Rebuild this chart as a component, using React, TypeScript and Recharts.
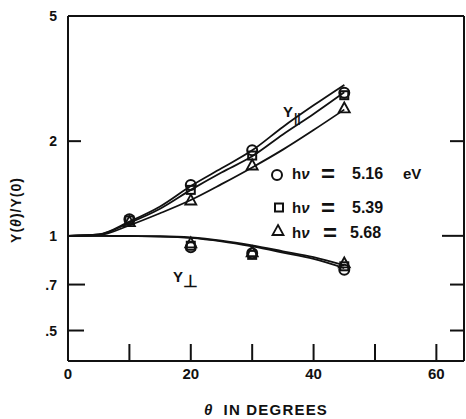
import { ComposedChart, Line, Scatter, XAxis, YAxis } from 'recharts'

const W = 466
const H = 419
const FONT = '"Liberation Sans", Arial, Helvetica, sans-serif'
const INK = '#111'

// axis ticks
const thetaTicks = [0, 10, 20, 30, 40, 50, 60]
const ratioTicks = [0.5, 0.7, 1, 2, 5]

// theory curves
const curveTheta = [0, 5, 10, 15, 20, 25, 30, 35, 40, 45]
const parTop = [1, 1.01, 1.11, 1.24, 1.44, 1.64, 1.87, 2.22, 2.6, 3.02]
const parMid = [1, 1.01, 1.1, 1.22, 1.4, 1.59, 1.79, 2.1, 2.44, 2.86]
const parLow = [1, 1.005, 1.08, 1.18, 1.3, 1.46, 1.65, 1.88, 2.17, 2.52]
const perpA = [1, 1, 0.998, 0.995, 0.985, 0.96, 0.925, 0.885, 0.845, 0.79]
const perpB = [1, 1, 0.999, 0.997, 0.988, 0.965, 0.932, 0.893, 0.855, 0.805]

// measured points, Y parallel
const parTheta = [10, 20, 30, 45]
const circlePar = [1.13, 1.45, 1.87, 2.85]
const squarePar = [1.12, 1.4, 1.8, 2.8]
const trianglePar = [1.11, 1.3, 1.68, 2.55]

// measured points, Y perpendicular
const perpTheta = [20, 30, 45]
const circlePerp = [0.92, 0.88, 0.78]
const squarePerp = [0.93, 0.87, 0.8]
const trianglePerp = [0.95, 0.89, 0.82]

const zip = (xs: number[], ys: number[]) => xs.map((x, i) => ({ x, y: ys[i] }))

const curves = [parTop, parMid, parLow, perpA, perpB].map((ys) => zip(curveTheta, ys))
const circles = [...zip(parTheta, circlePar), ...zip(perpTheta, circlePerp)]
const squares = [...zip(parTheta, squarePar), ...zip(perpTheta, squarePerp)]
const triangles = [...zip(parTheta, trianglePar), ...zip(perpTheta, trianglePerp)]

const CircleMark = ({ cx, cy }: any) => (
  <circle cx={cx} cy={cy} r={5} fill="#fff" fillOpacity={0} stroke={INK} strokeWidth={2} />
)
const SquareMark = ({ cx, cy }: any) => (
  <rect x={cx - 4} y={cy - 4} width={8} height={8} fill="none" stroke={INK} strokeWidth={2} />
)
const TriangleMark = ({ cx, cy }: any) => (
  <path d={`M${cx},${cy - 5.5}L${cx + 5.5},${cy + 4.5}L${cx - 5.5},${cy + 4.5}Z`} fill="none" stroke={INK} strokeWidth={1.8} />
)

const fmtRatio = (v: number) => (v < 1 ? String(v).replace('0.', '.') : String(v))
const leftLen: Record<string, number> = { '2': 13, '0.7': 17, '0.5': 16 }
const rightLen: Record<string, number> = { '2': 14, '1': 22, '0.7': 14, '0.5': 14 }

const tickText = { fontFamily: FONT, fontWeight: 'bold' as const, fill: INK }

const BottomTick = ({ x, y, payload }: any) => {
  const v = payload.value
  return (
    <g>
      {v > 0 && <line x1={x} x2={x} y1={y} y2={y - 17} stroke={INK} strokeWidth={2} />}
      {v % 20 === 0 && (
        <text x={x} y={y + 18} textAnchor="middle" fontSize={15} {...tickText}>
          {v}
        </text>
      )}
    </g>
  )
}

const TopTick = ({ x, y, payload }: any) =>
  payload.value > 0 ? <line x1={x} x2={x} y1={y} y2={y + 17} stroke={INK} strokeWidth={2} /> : <g />

const LeftTick = ({ x, y, payload }: any) => {
  const len = leftLen[String(payload.value)] ?? 0
  return (
    <g>
      {len > 0 && <line x1={x} x2={x + len} y1={y} y2={y} stroke={INK} strokeWidth={2} />}
      <text x={x - 11} y={y} dy="0.36em" textAnchor="end" fontSize={14} {...tickText}>
        {fmtRatio(payload.value)}
      </text>
    </g>
  )
}

const RightTick = ({ x, y, payload }: any) => {
  const len = rightLen[String(payload.value)] ?? 0
  return len > 0 ? <line x1={x} x2={x - len} y1={y} y2={y} stroke={INK} strokeWidth={2} /> : <g />
}

const frame = { stroke: INK, strokeWidth: 2 }

const legendRows = [
  { mark: 'circle', cy: 175, base: 178.5, eq: 321, val: 352, value: '5.16', unit: 'eV' },
  { mark: 'square', cy: 207.5, base: 212.5, eq: 321, val: 352, value: '5.39', unit: '' },
  { mark: 'triangle', cy: 230.5, base: 237.5, eq: 323, val: 350, value: '5.68', unit: '' },
]

export default function App() {
  return (
    <div style={{ position: 'absolute', left: 0, top: 0, width: W, height: H, background: '#fff' }}>
      <ComposedChart width={W} height={H} margin={{ top: 0, right: 0, bottom: 0, left: 0 }}>
        <XAxis
          xAxisId="b"
          dataKey="x"
          type="number"
          domain={[0, 64.5]}
          ticks={thetaTicks}
          interval={0}
          height={58}
          tickSize={0}
          tickMargin={0}
          tickLine={false}
          axisLine={frame}
          tick={<BottomTick />}
          allowDataOverflow
          label={{
            content: ({ viewBox }: any) => (
              <text
                x={viewBox.x + viewBox.width / 2}
                y={viewBox.y + 54}
                textAnchor="middle"
                fontSize={15}
                letterSpacing={1.2}
                {...tickText}
              >
                <tspan fontStyle="italic">θ</tspan>
                <tspan dx={10}>IN DEGREES</tspan>
              </text>
            ),
          }}
        />
        <XAxis
          xAxisId="t"
          orientation="top"
          type="number"
          domain={[0, 64.5]}
          ticks={thetaTicks}
          interval={0}
          height={16}
          tickSize={0}
          tickMargin={0}
          tickLine={false}
          axisLine={frame}
          tick={<TopTick />}
          allowDataOverflow
        />
        <YAxis
          yAxisId="l"
          type="number"
          scale="log"
          domain={[0.4, 5]}
          ticks={ratioTicks}
          interval={0}
          width={68}
          tickSize={0}
          tickMargin={0}
          tickLine={false}
          axisLine={frame}
          tick={<LeftTick />}
          allowDataOverflow
          label={{
            content: ({ viewBox }: any) => {
              const cx = viewBox.x + 16
              const cy = 210
              return (
                <text
                  x={cx}
                  y={cy}
                  dy="0.36em"
                  transform={`rotate(-90, ${cx}, ${cy})`}
                  textAnchor="middle"
                  fontSize={14}
                  letterSpacing={1}
                  {...tickText}
                >
                  Y(<tspan fontStyle="italic">θ</tspan>)/Y(0)
                </text>
              )
            },
          }}
        />
        <YAxis
          yAxisId="r"
          orientation="right"
          type="number"
          scale="log"
          domain={[0.4, 5]}
          ticks={ratioTicks}
          interval={0}
          width={2}
          tickSize={0}
          tickMargin={0}
          tickLine={false}
          axisLine={frame}
          tick={<RightTick />}
          allowDataOverflow
        />
        {curves.map((d, i) => (
          <Line
            key={i}
            xAxisId="b"
            yAxisId="l"
            data={d}
            dataKey="y"
            type="monotone"
            dot={false}
            stroke={INK}
            strokeWidth={1.8}
            isAnimationActive={false}
          />
        ))}
        <Scatter xAxisId="b" yAxisId="l" data={circles} dataKey="y" shape={CircleMark} isAnimationActive={false} />
        <Scatter xAxisId="b" yAxisId="l" data={squares} dataKey="y" shape={SquareMark} isAnimationActive={false} />
        <Scatter xAxisId="b" yAxisId="l" data={triangles} dataKey="y" shape={TriangleMark} isAnimationActive={false} />
      </ComposedChart>

      {/* annotations and legend, drawn over the plot */}
      <svg width={W} height={H} style={{ position: 'absolute', left: 0, top: 0, pointerEvents: 'none' }}>
        <g {...tickText} fontSize={15}>
          <text x={283} y={117}>
            Y<tspan dx={1} dy={5} fontSize={12}>||</tspan>
          </text>
          <text x={173} y={282}>
            Y<tspan dx={0} dy={5} fontSize={17}>⊥</tspan>
          </text>
          {legendRows.map((r) => (
            <g key={r.value}>
              {r.mark === 'circle' && <CircleMark cx={277} cy={r.cy} />}
              {r.mark === 'square' && <SquareMark cx={279} cy={r.cy} />}
              {r.mark === 'triangle' && <TriangleMark cx={278} cy={r.cy} />}
              <text x={292} y={r.base}>
                h<tspan fontStyle="italic">ν</tspan>
              </text>
              <text x={r.eq} y={r.base + 3} fontSize={24} fontWeight={900}>
                =
              </text>
              <text x={r.val} y={r.base} fontSize={16}>
                {r.value}
              </text>
              {r.unit && (
                <text x={403} y={r.base} fontSize={15}>
                  {r.unit}
                </text>
              )}
            </g>
          ))}
        </g>
      </svg>
    </div>
  )
}
